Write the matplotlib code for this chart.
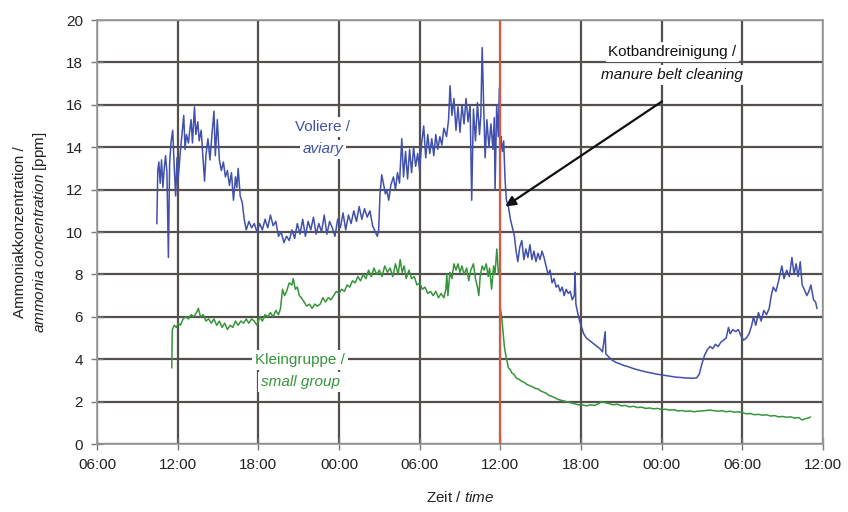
import matplotlib
matplotlib.use("Agg")
import matplotlib.pyplot as plt

plt.rcParams['font.family'] = ['Liberation Sans', 'DejaVu Sans']
plt.rcParams['mathtext.fontset'] = 'custom'
plt.rcParams['mathtext.rm'] = 'Liberation Sans'
plt.rcParams['mathtext.it'] = 'Liberation Sans:italic'

# hours after 06:00 of day 1
tick_hours = [0, 6, 12, 18, 24, 30, 36, 42, 48, 54]
tick_labels = ["06:00", "12:00", "18:00", "00:00", "06:00", "12:00", "18:00", "00:00", "06:00", "12:00"]
y_ticks = [0, 2, 4, 6, 8, 10, 12, 14, 16, 18, 20]
cleaning_hour = 30.0

aviary_t = [
    4.45, 4.52, 4.6, 4.7, 4.8, 4.9, 5.0, 5.1, 5.2, 5.31, 5.4, 5.5, 5.63, 5.75, 5.85, 5.95,
    6.05, 6.2, 6.3, 6.45, 6.55, 6.65, 6.8, 6.9, 7.0, 7.1, 7.25, 7.35, 7.5, 7.6, 7.75, 7.85,
    8.0, 8.1, 8.25, 8.4, 8.55, 8.7, 8.8, 8.95, 9.1, 9.25, 9.4, 9.55, 9.7, 9.85, 10.0, 10.15,
    10.3, 10.4, 10.5, 10.65, 10.8, 10.95, 11.1, 11.2,
    11.3, 11.5, 11.7, 11.9, 12.1, 12.3, 12.5, 12.7, 12.9, 13.1, 13.3, 13.5, 13.7, 13.9, 14.1,
    14.3, 14.5, 14.7, 14.9, 15.1, 15.3, 15.5, 15.7, 15.9, 16.1, 16.3, 16.5, 16.7, 16.9, 17.1,
    17.3, 17.5, 17.7, 17.9, 18.1, 18.3, 18.5, 18.7, 18.9, 19.1, 19.3, 19.5, 19.7, 19.9, 20.1,
    20.3, 20.5, 20.7, 20.85,
    20.95, 21.05, 21.18, 21.3, 21.45, 21.55, 21.7, 21.85, 22.05, 22.2, 22.35, 22.5, 22.67, 22.8,
    22.95, 23.1, 23.25, 23.4, 23.55, 23.7, 23.85, 24.0, 24.15, 24.3, 24.45, 24.6, 24.75, 24.9,
    25.05, 25.2, 25.35, 25.5, 25.65, 25.8, 26.0, 26.15, 26.26, 26.4, 26.55, 26.7, 26.85, 27.0,
    27.15, 27.3, 27.45, 27.6, 27.75, 27.87, 28.0, 28.15, 28.3, 28.45, 28.55, 28.65, 28.75, 28.87,
    29.0, 29.15, 29.3, 29.45, 29.55, 29.61, 29.73, 29.85, 29.93, 30.0,
    30.05, 30.15, 30.25, 30.35, 30.45, 30.6, 30.75, 30.9, 31.05, 31.15, 31.3, 31.45, 31.6, 31.75,
    31.9, 32.05, 32.2, 32.35, 32.5, 32.65, 32.8, 32.95, 33.1, 33.25, 33.4, 33.55, 33.7, 33.85,
    34.0, 34.15, 34.3, 34.45, 34.6, 34.75, 34.9, 35.05, 35.2, 35.35, 35.5, 35.56, 35.62, 35.75,
    35.9, 36.05,
    36.2, 36.4, 36.6, 36.8, 37.0, 37.2, 37.4, 37.6, 37.8, 37.85, 38.0, 38.3, 38.6, 38.9, 39.2,
    39.5, 39.8, 40.1, 40.4, 40.7, 41.0, 41.3, 41.6, 41.9, 42.2, 42.5, 42.8, 43.1, 43.4, 43.7,
    44.0, 44.3, 44.6, 44.8, 45.0, 45.2, 45.4, 45.6, 45.8, 46.0, 46.2, 46.4, 46.6, 46.8, 46.97,
    47.1, 47.3, 47.5, 47.7, 47.9, 48.1, 48.3, 48.5, 48.7, 48.83, 49.0, 49.2, 49.4, 49.6, 49.8,
    50.0, 50.15, 50.3, 50.5, 50.7, 50.94, 51.1, 51.3, 51.5, 51.69, 51.85, 52.0, 52.15, 52.31,
    52.45, 52.6, 52.8, 52.95, 53.1, 53.3, 53.45, 53.55,
]
aviary_v = [
    10.4, 12.9, 13.3, 12.3, 13.4, 12.1, 13.0, 13.6, 12.8, 8.8, 13.2, 14.2, 14.8, 13.0, 11.7, 13.5,
    12.6, 13.8, 14.5, 15.5, 13.9, 14.6, 14.2, 14.8, 15.3, 14.2, 15.9, 14.6, 15.2, 14.3, 14.8, 13.8,
    12.4, 13.6, 14.4, 13.4, 14.6, 15.7, 13.6, 15.3, 13.4, 12.9, 13.3, 12.6, 12.9, 12.2, 12.8, 11.5,
    12.6, 12.1, 13.0, 11.7, 11.4, 10.6, 10.1, 10.3,
    10.5, 10.2, 10.4, 10.0, 10.4, 10.1, 10.6, 10.2, 10.8, 10.3, 10.5, 9.8, 10.0, 9.5, 9.8,
    9.6, 10.1, 9.7, 10.4, 9.9, 10.6, 9.8, 10.5, 10.1, 10.7, 9.9, 10.4, 10.0, 10.8, 9.9,
    10.5, 10.2, 9.8, 10.6, 10.2, 10.9, 10.1, 10.8, 10.4, 11.0, 10.5, 11.2, 10.6, 11.1, 10.7,
    11.0, 10.3, 10.0, 9.8,
    10.1, 11.8, 12.7, 12.3, 11.8, 12.0, 11.5, 12.2, 12.6, 12.0, 12.8, 12.3, 14.4, 12.6,
    13.8, 12.5, 13.9, 12.8, 14.0, 13.1, 13.7, 12.9, 14.2, 15.0, 13.5, 14.6, 13.7, 14.4,
    13.6, 14.6, 13.9, 14.5, 14.1, 14.9, 14.5, 15.3, 16.9, 15.5, 16.3, 14.8, 15.9, 14.7,
    16.0, 15.1, 16.3, 15.2, 16.0, 11.5, 15.8, 14.3, 16.1, 14.6, 15.5, 18.7, 16.2, 13.5,
    15.3, 14.0, 15.1, 13.9, 15.4, 12.0, 16.0, 14.5, 16.8, 14.3,
    14.5, 13.8, 14.3, 12.5, 11.5, 11.2, 10.6, 10.2, 9.8, 9.2, 8.6, 9.3, 9.6, 8.7,
    9.2, 8.8, 9.4, 8.7, 9.1, 8.6, 9.0, 8.7, 9.1, 8.8, 8.4, 8.0, 8.2, 7.6,
    7.8, 7.4, 7.5, 7.2, 7.4, 7.0, 7.3, 7.1, 7.2, 6.8, 7.0, 8.1, 6.6, 6.2,
    5.8, 5.5,
    5.2, 5.0, 4.9, 4.8, 4.7, 4.6, 4.5, 4.35, 5.3, 4.25, 4.15, 3.96, 3.85, 3.78, 3.7,
    3.65, 3.58, 3.52, 3.47, 3.42, 3.38, 3.34, 3.3, 3.27, 3.24, 3.21, 3.18, 3.15, 3.14, 3.12,
    3.11, 3.1, 3.12, 3.3, 3.8, 4.2, 4.45, 4.6, 4.5, 4.7, 4.6, 4.8, 4.9, 5.0, 5.5,
    5.2, 5.4, 5.3, 5.4, 5.1, 4.9, 5.0, 5.2, 5.6, 6.0, 5.6, 6.2, 5.8, 6.3, 6.1,
    6.4, 7.0, 7.4, 7.2, 7.7, 8.4, 7.8, 8.2, 7.9, 8.8, 8.0, 8.5, 7.9, 8.6,
    7.5, 7.3, 7.0, 7.2, 7.5, 6.8, 6.7, 6.4,
]

small_t = [
    5.56, 5.6, 5.75, 5.9, 6.05, 6.2, 6.4, 6.6, 6.8, 7.0, 7.2, 7.4, 7.54, 7.7, 7.9, 8.1, 8.3,
    8.5, 8.7, 8.9, 9.1, 9.3, 9.5, 9.7, 9.9, 10.1, 10.3, 10.5, 10.7, 10.9, 11.1, 11.3, 11.5,
    11.7, 11.9, 12.1, 12.3, 12.5, 12.7, 12.9, 13.1, 13.3, 13.5, 13.65, 13.8, 13.95, 14.1, 14.3,
    14.5, 14.6, 14.75, 14.9, 15.05, 15.2, 15.4, 15.6, 15.8, 16.0, 16.2, 16.4, 16.6, 16.8, 17.0,
    17.2, 17.4, 17.6, 17.8,
    18.0, 18.2, 18.4, 18.6, 18.8, 19.0, 19.2, 19.4, 19.6, 19.8, 20.0, 20.2, 20.4, 20.6, 20.8,
    21.0, 21.2, 21.4, 21.6, 21.8, 22.0, 22.2, 22.4, 22.55, 22.7, 22.85, 23.0, 23.2, 23.4, 23.6,
    23.8, 24.0, 24.2, 24.4, 24.6, 24.8, 25.0, 25.2, 25.4, 25.6, 25.8, 25.95, 26.02, 26.1, 26.25,
    26.4, 26.55, 26.7, 26.85, 27.0, 27.15, 27.3, 27.5, 27.65, 27.8, 28.0, 28.15, 28.3, 28.4,
    28.5, 28.65, 28.8, 28.95, 29.1, 29.2, 29.35, 29.5, 29.6, 29.74, 29.85, 29.95,
    30.0, 30.1, 30.2, 30.3, 30.4, 30.5, 30.6, 30.75, 30.85, 31.0, 31.2, 31.4, 31.6, 31.8, 32.0,
    32.2, 32.4, 32.6, 32.8, 33.0, 33.2, 33.4, 33.6, 33.8, 34.0, 34.3, 34.6, 34.9, 35.2, 35.5,
    35.8, 36.1, 36.4, 36.7, 37.0, 37.3, 37.55, 37.8, 38.1, 38.4, 38.7, 39.0, 39.3, 39.6, 39.9,
    40.2, 40.5, 40.8, 41.1, 41.4, 41.7, 42.0, 42.3, 42.6, 42.9, 43.2, 43.5, 43.8, 44.1, 44.4,
    44.7, 45.0, 45.3, 45.6, 45.9, 46.2, 46.5, 46.8, 47.1, 47.4, 47.7, 48.0, 48.3, 48.6, 48.9,
    49.2, 49.5, 49.8, 50.1, 50.4, 50.7, 51.0, 51.3, 51.6, 51.9, 52.2, 52.45, 52.7, 52.9, 53.05,
]
small_v = [
    3.6, 5.4, 5.6, 5.5, 5.7, 5.6, 5.9, 6.0, 5.9, 6.1, 6.0, 6.2, 6.4, 6.0, 6.1, 5.8, 5.9,
    5.7, 5.9, 5.6, 5.8, 5.5, 5.7, 5.4, 5.6, 5.5, 5.8, 5.6, 5.8, 5.7, 5.9, 5.7, 5.9,
    5.8, 5.6, 6.0, 5.8, 6.1, 6.0, 6.2, 6.0, 6.3, 6.1, 6.4, 7.3, 7.0, 7.2, 7.6,
    7.5, 7.8, 7.3, 7.4, 7.0, 6.9, 6.7, 6.5, 6.6, 6.4, 6.6, 6.5, 6.6, 6.9, 6.7,
    6.9, 6.8, 7.0, 7.2,
    7.1, 7.3, 7.2, 7.5, 7.4, 7.7, 7.6, 7.9, 7.7, 8.0, 7.8, 8.2, 7.9, 8.3, 8.0,
    8.2, 7.9, 8.4, 8.1, 8.3, 7.9, 8.5, 8.0, 8.7, 8.1, 8.4, 7.8, 8.2, 7.8, 7.9,
    7.5, 7.6, 7.3, 7.4, 7.1, 7.2, 7.0, 7.2, 6.9, 7.1, 6.9, 7.3, 8.0, 7.0, 8.1,
    7.8, 8.5, 8.2, 8.5, 8.1, 8.4, 8.0, 8.3, 7.7, 8.2, 8.5, 7.8, 7.4, 7.0,
    7.9, 8.4, 8.2, 8.5, 7.9, 8.3, 7.3, 8.4, 8.0, 9.2, 8.1, 8.3,
    6.4, 6.0, 5.3, 4.6, 4.2, 3.9, 3.6, 3.5, 3.35, 3.3, 3.1, 3.05, 2.95, 2.9, 2.8,
    2.75, 2.7, 2.62, 2.6, 2.5, 2.45, 2.4, 2.3, 2.25, 2.2, 2.1, 2.05, 2.0, 1.95, 1.9,
    1.85, 1.85, 1.8, 1.85, 1.82, 1.9, 2.0, 1.95, 1.9, 1.85, 1.88, 1.8, 1.82, 1.75, 1.78,
    1.72, 1.74, 1.68, 1.7, 1.66, 1.68, 1.62, 1.64, 1.6, 1.62, 1.56, 1.58, 1.54, 1.56, 1.52,
    1.55, 1.56, 1.58, 1.6, 1.57, 1.55, 1.57, 1.52, 1.55, 1.5, 1.52, 1.48, 1.42, 1.44, 1.38,
    1.4, 1.36, 1.38, 1.32, 1.34, 1.28, 1.3, 1.26, 1.28, 1.22, 1.25, 1.13, 1.2, 1.22, 1.27,
]

blue = "#4050ac"
green = "#36953a"
red = "#e8533c"
grid_c = "#55504d"

fig = plt.figure(figsize=(8.48, 5.12), dpi=100)
ax = fig.add_axes([0.1144, 0.1328, 0.8561, 0.8281])

ax.set_xlim(0, 54)
ax.set_ylim(0, 20)
ax.set_xticks(tick_hours)
ax.set_xticklabels(tick_labels)
ax.set_yticks(y_ticks)
ax.grid(True, color=grid_c, linewidth=1.6, zorder=0)
ax.set_axisbelow(True)
for s in ax.spines.values():
    s.set_color("#9a9a9a")
    s.set_linewidth(1.2)
ax.tick_params(direction="inout", length=8, width=1.0, color="#7a7a7a",
               labelsize=11, labelcolor="#222222", pad=6)

ax.plot(aviary_t, aviary_v, color=blue, linewidth=1.1, zorder=3)
ax.plot(small_t, small_v, color=green, linewidth=1.1, zorder=3)
ax.axvline(cleaning_hour, color=red, linewidth=1.4, zorder=4)

box = dict(facecolor="white", edgecolor="none", pad=2)
ax.text(16.8, 14.95, "Voliere /", color=blue, fontsize=11, ha="center", va="center",
        bbox=box, zorder=5)
ax.text(16.8, 13.9, "aviary", color=blue, fontsize=11, style="italic", ha="center",
        va="center", bbox=box, zorder=5)
ax.text(15.1, 3.96, "Kleingruppe /", color=green, fontsize=11, ha="center", va="center",
        bbox=box, zorder=5)
ax.text(15.1, 2.92, "small group", color=green, fontsize=11, style="italic", ha="center",
        va="center", bbox=box, zorder=5)
ax.text(42.8, 18.5, "Kotbandreinigung /", color="#111111", fontsize=11, ha="center",
        va="center", bbox=box, zorder=5)
ax.text(42.8, 17.4, "manure belt cleaning", color="#111111", fontsize=11, style="italic",
        ha="center", va="center", bbox=box, zorder=5)
ax.annotate("", xy=(30.2, 11.13), xytext=(42.19, 16.23),
            arrowprops=dict(arrowstyle="-|>,head_length=0.6,head_width=0.3",
                            color="#111111", linewidth=1.6), zorder=6)

fig.text(0.0236, 0.5467, "Ammoniakkonzentration /", rotation=90, fontsize=11,
         ha="center", va="center", color="#222222")
fig.text(0.0470, 0.5467, r"$\mathit{ammonia\ concentration}$ [ppm]", rotation=90,
         fontsize=11, ha="center", va="center", color="#222222")
fig.text(0.5425, 0.0290, r"Zeit / $\mathit{time}$", fontsize=11, ha="center",
         va="center", color="#222222")

fig.savefig("out.png", dpi=100)
